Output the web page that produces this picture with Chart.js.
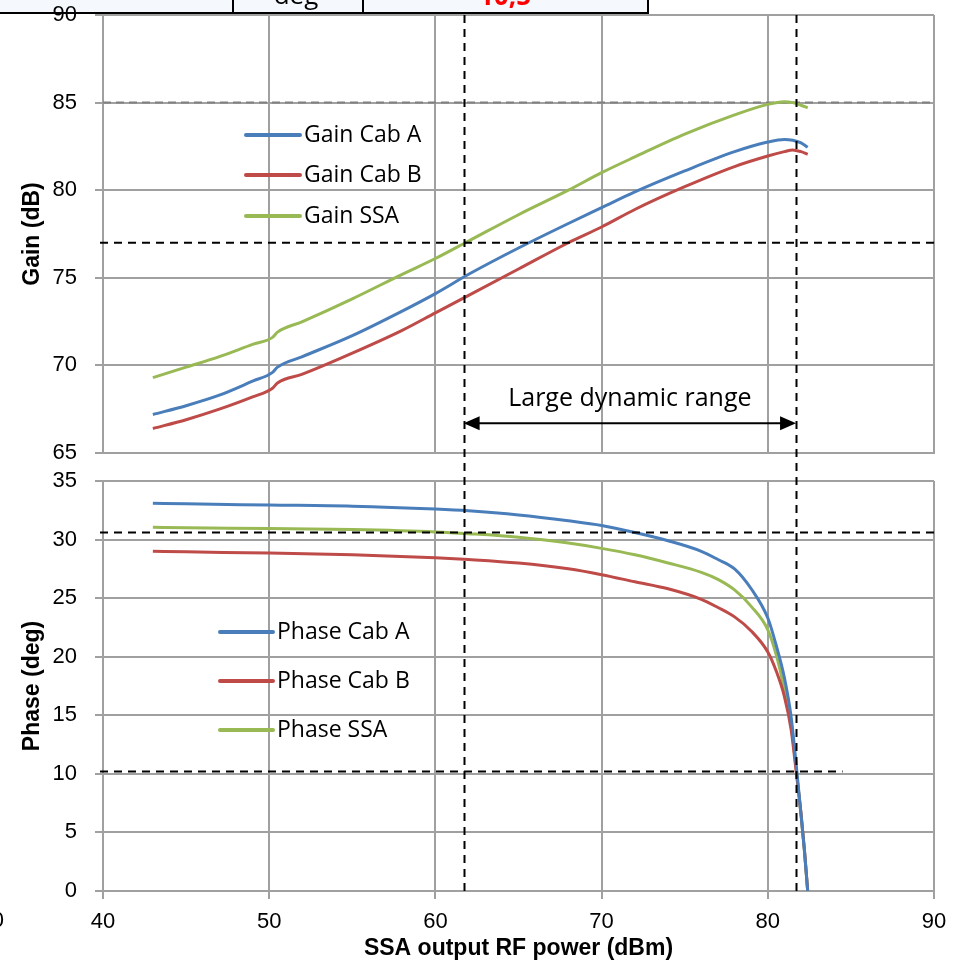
<!DOCTYPE html>
<html>
<head>
<meta charset="utf-8">
<script src="https://cdn.jsdelivr.net/npm/chart.js@4.4.1/dist/chart.umd.min.js"></script>
<style>
  html, body { margin: 0; padding: 0; background: #ffffff; }
  #wrap { position: relative; width: 960px; height: 963px; overflow: hidden; }
  #wrap canvas { position: absolute; left: 0; top: 0; }
</style>
</head>
<body>
<div id="wrap">
  <canvas id="gainChart" width="960" height="963"></canvas>
  <canvas id="phaseChart" width="960" height="963"></canvas>
</div>
<script>
// ---- Gain vs output power (dB) ----
const gainPower = [43, 45, 47, 49, 50.2, 50.5, 52, 55, 58, 60, 62, 65, 68, 70, 72, 75, 78, 80, 81, 81.5, 82, 82.4];
const gainCabA  = [67.2, 67.7, 68.3, 69.1, 69.6, 69.9, 70.5, 71.7, 73.1, 74.1, 75.2, 76.7, 78.1, 79.0, 79.9, 81.1, 82.2, 82.75, 82.9, 82.85, 82.7, 82.45];
const gainCabB  = [66.4, 66.9, 67.5, 68.2, 68.7, 69.0, 69.5, 70.7, 72.0, 73.0, 74.0, 75.5, 77.0, 77.9, 78.9, 80.2, 81.35, 81.95, 82.2, 82.3, 82.2, 82.05];
const gainSSA   = [69.3, 69.9, 70.5, 71.2, 71.6, 71.9, 72.5, 73.8, 75.2, 76.1, 77.1, 78.6, 80.0, 81.0, 81.9, 83.2, 84.3, 84.9, 85.05, 85.0, 84.85, 84.7];

// ---- Phase vs output power (deg) ----
const phasePower = [43, 45, 50, 55, 60, 62, 65, 68, 70, 72, 74, 76, 77, 78, 79, 80, 80.5, 81, 81.4, 81.7, 82, 82.2, 82.4];
const phaseCabA  = [33.1, 33.05, 32.95, 32.85, 32.6, 32.45, 32.1, 31.6, 31.2, 30.6, 29.9, 29.0, 28.3, 27.5, 25.8, 23.3, 21.0, 18.2, 14.9, 10.9, 6.5, 3.5, 0];
const phaseCabB  = [29.0, 28.95, 28.85, 28.7, 28.45, 28.3, 28.0, 27.5, 27.0, 26.4, 25.8, 24.9, 24.2, 23.4, 22.2, 20.4, 18.8, 16.6, 13.8, 10.3, 6.6, 3.6, 0];
const phaseSSA   = [31.05, 31.0, 30.95, 30.85, 30.65, 30.5, 30.2, 29.7, 29.25, 28.7, 28.0, 27.2, 26.6, 25.7, 24.3, 22.3, 20.2, 17.2, 14.2, 10.5, 6.5, 3.5, 0];

// ---- Reference markers ----
const rangeBounds = [61.7, 81.7];      // dBm, vertical dashed lines
const gainRefLevels = [77];            // dB, black dashed
const gainMaxLevel = [85];             // dB, grey dashed
const phaseRefLevels = [30.6, 10.2];   // deg, black dashed
const phaseRefEnds = [90, 84.5];       // dBm, right end of each phase line
const rangeArrowGain = 66.7;           // dB, arrow height
const rangeLabelGain = 68.1;           // dB, label height
const rangeLabel = 'Large dynamic range';
const tableCells = ['deg', '10,5'];

const BLUE = '#4A7EBB', RED = '#BE4B48', GREEN = '#98B954';
const GRID = '#a0a0a0';
const TICK_FONT = { family: '"Liberation Sans Narrow", "Liberation Sans", Arial, sans-serif', size: 22 };
const TITLE_FONT = { family: '"Liberation Sans Narrow", "Liberation Sans", Arial, sans-serif', size: 23, weight: 'bold' };
const LEGEND_FONT = '23px "Open Sans", "Noto Sans", sans-serif';
const LABEL_FONT = '25px "Open Sans", "Noto Sans", sans-serif';

function pts(xs, ys) { return xs.map((x, i) => ({ x: x, y: ys[i] })); }
function ds(label, xs, ys, color) {
  return { label: label, data: pts(xs, ys), borderColor: color, backgroundColor: color,
           borderWidth: 3, pointRadius: 0, fill: false, cubicInterpolationMode: 'monotone' };
}

function xAxis(showTicks) {
  return {
    type: 'linear', min: 40, max: 90,
    ticks: { display: showTicks, stepSize: 10, font: TICK_FONT, color: '#000', padding: 10, maxRotation: 0 },
    grid: { color: GRID, lineWidth: 2, drawTicks: showTicks, tickLength: 8 },
    border: { color: GRID, width: 2 },
    title: showTicks ? { display: true, text: 'SSA output RF power (dBm)', font: TITLE_FONT, color: '#000', padding: { top: 0, bottom: 1 } } : { display: false },
    afterFit: s => { s.height = showTicks ? 72 : 0; s.paddingLeft = 0; s.paddingRight = 0; }
  };
}
function yAxis(min, max, title) {
  return {
    type: 'linear', min: min, max: max,
    ticks: { stepSize: 5, font: TICK_FONT, color: '#000', padding: 18 },
    grid: { color: GRID, lineWidth: 2, tickLength: 8 },
    border: { color: GRID, width: 2 },
    title: { display: true, text: title, font: TITLE_FONT, color: '#000', padding: { top: 19, bottom: 0 } },
    // fixed axis width; no extra room reserved for end labels
    afterFit: s => { s.width = 103; s.paddingTop = 0; s.paddingBottom = 0; }
  };
}

// Legend drawn inside the plot area: line sample + label
function inlineLegend(x0, x1, ys) {
  return {
    id: 'inlineLegend',
    afterDatasetsDraw(chart) {
      const ctx = chart.ctx;
      ctx.save();
      chart.data.datasets.forEach((d, i) => {
        ctx.strokeStyle = d.borderColor;
        ctx.lineWidth = 4;
        ctx.lineCap = 'round';
        ctx.beginPath(); ctx.moveTo(x0, ys[i]); ctx.lineTo(x1, ys[i]); ctx.stroke();
        ctx.fillStyle = '#000';
        ctx.font = LEGEND_FONT;
        ctx.textBaseline = 'middle';
        ctx.textAlign = 'left';
        ctx.fillText(d.label, x1 + 4, ys[i]);
      });
      ctx.restore();
    }
  };
}

function dashedH(ctx, y, xa, xb, color, dash) {
  ctx.save();
  ctx.strokeStyle = color; ctx.lineWidth = 2; ctx.setLineDash(dash);
  ctx.beginPath(); ctx.moveTo(xa, y); ctx.lineTo(xb, y); ctx.stroke();
  ctx.restore();
}

const gainChart = new Chart(document.getElementById('gainChart'), {
  type: 'line',
  data: { datasets: [
    ds('Gain Cab A', gainPower, gainCabA, BLUE),
    ds('Gain Cab B', gainPower, gainCabB, RED),
    ds('Gain SSA', gainPower, gainSSA, GREEN)
  ] },
  options: {
    responsive: false, animation: false, devicePixelRatio: 1,
    layout: { padding: { top: 15, right: 26, bottom: 510, left: 0 } },
    plugins: { legend: { display: false }, tooltip: { enabled: false } },
    scales: { x: xAxis(false), y: yAxis(65, 90, 'Gain (dB)') }
  },
  plugins: [{
    id: 'gainRefs',
    beforeDraw(chart) {
      // summary table strip along the top edge (axis labels draw over it)
      const ctx = chart.ctx;
      ctx.save();
      ctx.fillStyle = '#f5f9fd';
      ctx.fillRect(-2, -20, 650, 33);
      ctx.strokeStyle = '#000'; ctx.lineWidth = 2;
      ctx.strokeRect(-2, -20, 650, 33);
      ctx.beginPath(); ctx.moveTo(233, -20); ctx.lineTo(233, 13); ctx.moveTo(363, -20); ctx.lineTo(363, 13); ctx.stroke();
      ctx.textAlign = 'center'; ctx.textBaseline = 'middle';
      ctx.fillStyle = '#000'; ctx.font = '26px "Open Sans", sans-serif';
      ctx.fillText(tableCells[0], 296, -3);
      ctx.fillStyle = '#ff0000'; ctx.font = 'bold 26px "Open Sans", sans-serif';
      ctx.fillText(tableCells[1], 505, -2);
      ctx.restore();
    },
    beforeDatasetsDraw(chart) {
      const { ctx, chartArea: a, scales: { y } } = chart;
      gainMaxLevel.forEach(v => dashedH(ctx, y.getPixelForValue(v), a.left, a.right, '#808080', [8, 5]));
    },
    afterDatasetsDraw(chart) {
      const { ctx, chartArea: a, scales: { x, y } } = chart;
      gainRefLevels.forEach(v => dashedH(ctx, y.getPixelForValue(v), a.left - 3, a.right, '#000', [8, 6]));
      // dynamic range arrow
      const xa = x.getPixelForValue(rangeBounds[0]), xb = x.getPixelForValue(rangeBounds[1]);
      const ya = y.getPixelForValue(rangeArrowGain);
      ctx.save();
      ctx.strokeStyle = '#000'; ctx.fillStyle = '#000'; ctx.lineWidth = 2;
      ctx.beginPath(); ctx.moveTo(xa + 10, ya); ctx.lineTo(xb - 10, ya); ctx.stroke();
      ctx.beginPath(); ctx.moveTo(xa, ya); ctx.lineTo(xa + 16, ya - 7); ctx.lineTo(xa + 16, ya + 7); ctx.closePath(); ctx.fill();
      ctx.beginPath(); ctx.moveTo(xb, ya); ctx.lineTo(xb - 16, ya - 7); ctx.lineTo(xb - 16, ya + 7); ctx.closePath(); ctx.fill();
      ctx.font = LABEL_FONT; ctx.textAlign = 'center'; ctx.textBaseline = 'middle';
      ctx.fillText(rangeLabel, (xa + xb) / 2, y.getPixelForValue(rangeLabelGain));
      ctx.restore();
    }
  }, inlineLegend(246, 300, [135, 175, 216])]
});

const phaseChart = new Chart(document.getElementById('phaseChart'), {
  type: 'line',
  data: { datasets: [
    ds('Phase Cab A', phasePower, phaseCabA, BLUE),
    ds('Phase Cab B', phasePower, phaseCabB, RED),
    ds('Phase SSA', phasePower, phaseSSA, GREEN)
  ] },
  options: {
    responsive: false, animation: false, devicePixelRatio: 1,
    layout: { padding: { top: 481, right: 26, bottom: 0, left: 0 } },
    plugins: { legend: { display: false }, tooltip: { enabled: false } },
    scales: { x: xAxis(true), y: yAxis(0, 35, 'Phase (deg)') }
  },
  plugins: [inlineLegend(220, 273, [632, 681, 730]), {
    id: 'phaseRefs',
    afterDraw(chart) {
      const { ctx, chartArea: a, scales: { x, y } } = chart;
      phaseRefLevels.forEach((v, i) => dashedH(ctx, y.getPixelForValue(v), a.left - 3, x.getPixelForValue(phaseRefEnds[i]), '#000', [8, 6]));
      // vertical range bounds spanning both plots
      const top = gainChart.chartArea.top;
      rangeBounds.forEach(v => {
        const px = Math.round(x.getPixelForValue(v)) + 0.5;
        ctx.save();
        ctx.strokeStyle = '#000'; ctx.lineWidth = 2; ctx.setLineDash([8, 6]);
        ctx.beginPath(); ctx.moveTo(px, top); ctx.lineTo(px, a.bottom); ctx.stroke();
        ctx.restore();
      });
      // edge of the neighbouring label on the left margin
      ctx.save();
      ctx.fillStyle = '#000'; ctx.font = TICK_FONT.size + 'px ' + TICK_FONT.family;
      ctx.textAlign = 'right'; ctx.textBaseline = 'middle';
      ctx.fillText('0', 4, 921);
      ctx.restore();
    }
  }]
});
</script>
</body>
</html>
